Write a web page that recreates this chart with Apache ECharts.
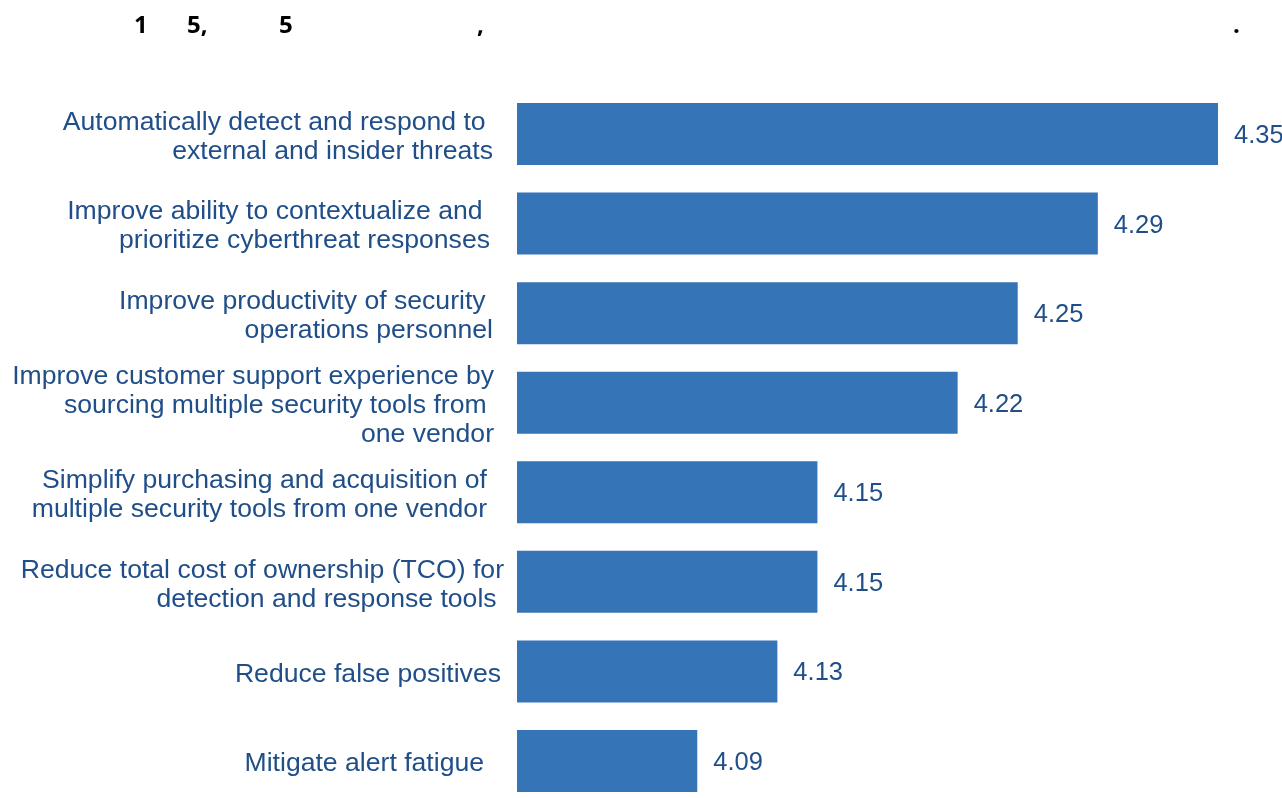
<!DOCTYPE html>
<html>
<head>
<meta charset="utf-8">
<script src="https://cdn.jsdelivr.net/npm/echarts@6/dist/echarts.min.js"></script>
<style>
  html, body { margin: 0; padding: 0; background: #ffffff; }
  #chart { width: 1282px; height: 798px; }
</style>
</head>
<body>
<div id="chart"></div>
<script>
// Benefit statements (top to bottom) and their average importance rating
const categories = [
  'Automatically detect and respond to \nexternal and insider threats',
  'Improve ability to contextualize and \nprioritize cyberthreat responses',
  'Improve productivity of security \noperations personnel',
  'Improve customer support experience by\nsourcing multiple security tools from \none vendor',
  'Simplify purchasing and acquisition of\nmultiple security tools from one vendor',
  'Reduce total cost of ownership (TCO) for\ndetection and response tools ',
  'Reduce false positives',
  'Mitigate alert fatigue'
];
const ratings = [4.35, 4.29, 4.25, 4.22, 4.15, 4.15, 4.13, 4.09];

// Visible characters of the heading line
const headingGlyphs = ['1', '5,', '5', ',', '.'];

// Right-edge nudges for each label block (pixels moved left)
const labelShift = [13, 16, 13, 12, 19, 2, 5, 22];

const BAR = '#3474B7';
const INK = '#1F4E89';

const chart = echarts.init(document.getElementById('chart'), null, { renderer: 'canvas' });

const headingX = [134, 187, 279, 477, 1233];

chart.setOption({
  animation: false,
  backgroundColor: '#ffffff',
  // category centres sit on the grid edges (boundaryGap off);
  // the second grid carries the category text, set a few pixels lower
  grid: [
    { left: 517, right: 64, top: 134, bottom: 37, containLabel: false },
    { left: 517, right: 64, top: 137, bottom: 34, containLabel: false }
  ],
  xAxis: [
    { type: 'value', min: 4, max: 4.35, show: false, gridIndex: 0 },
    { type: 'value', min: 4, max: 4.35, show: false, gridIndex: 1 }
  ],
  yAxis: [
    {
      type: 'category',
      gridIndex: 0,
      inverse: true,
      boundaryGap: false,
      data: categories,
      axisLine: { show: false },
      axisTick: { show: false },
      splitLine: { show: false },
      axisLabel: { show: false }
    },
    {
      type: 'category',
      gridIndex: 1,
      inverse: true,
      boundaryGap: false,
      data: categories.map((c, i) => ({
        value: c,
        textStyle: { padding: [0, labelShift[i], 0, 0] }
      })),
      axisLine: { show: false },
      axisTick: { show: false },
      splitLine: { show: false },
      axisLabel: {
        margin: 11,
        color: INK,
        fontFamily: '"Liberation Sans", Arial, sans-serif',
        fontSize: 26.6,
        lineHeight: 29,
        align: 'right'
      }
    }
  ],
  series: [{
    type: 'bar',
    xAxisIndex: 0,
    yAxisIndex: 0,
    data: ratings,
    barWidth: 62,
    itemStyle: { color: BAR },
    label: {
      show: true,
      position: 'right',
      distance: 16,
      offset: [0, 2],
      color: INK,
      fontFamily: '"Liberation Sans", Arial, sans-serif',
      fontSize: 25.5,
      formatter: p => p.value.toFixed(2)
    }
  }],
  graphic: headingGlyphs.map((t, i) => ({
    type: 'text',
    left: headingX[i],
    top: 14,
    style: {
      text: t,
      fill: '#000000',
      font: 'bold 24px "Open Sans", "Noto Sans", sans-serif'
    }
  }))
});
</script>
</body>
</html>
